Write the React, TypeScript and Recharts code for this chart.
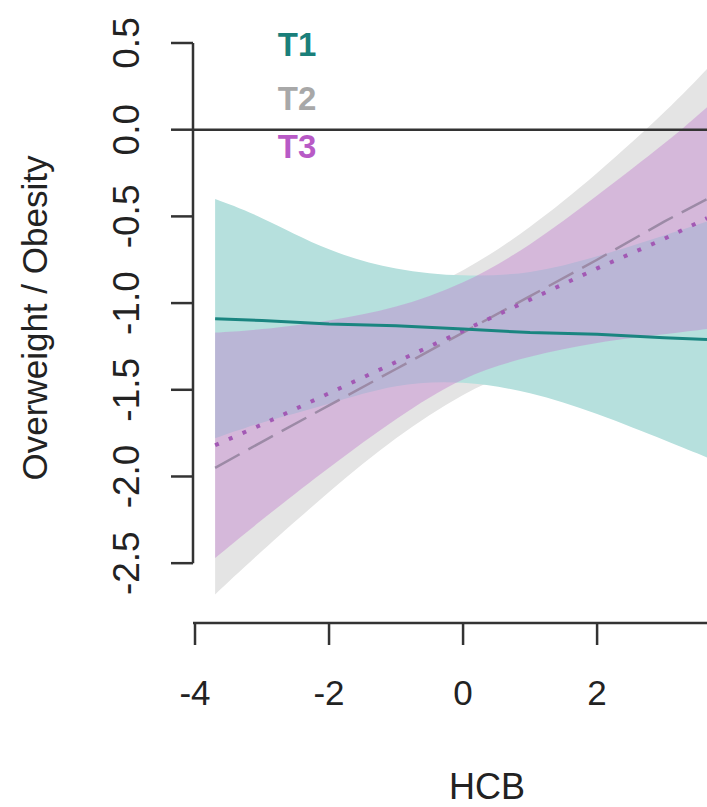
import {
  ComposedChart,
  Area,
  Line,
  XAxis,
  YAxis,
  ReferenceLine,
} from "recharts";

// HCB values where the fitted lines / bands were read
const hcb = [-3.7, -3, -2, -1, 0, 1, 2, 3, 3.64];

// T1 (solid teal) and its confidence band
const t1 = [-1.09, -1.1, -1.12, -1.13, -1.15, -1.17, -1.18, -1.2, -1.21];
const t1Lo = [-1.78, -1.69, -1.58, -1.48, -1.46, -1.52, -1.64, -1.79, -1.89];
const t1Hi = [-0.4, -0.51, -0.69, -0.8, -0.84, -0.82, -0.73, -0.61, -0.53];

// T2 (grey long dash)
const t2 = [-1.95, -1.8, -1.59, -1.38, -1.17, -0.96, -0.75, -0.53, -0.4];
const t2Lo = [-2.68, -2.43, -2.09, -1.78, -1.53, -1.36, -1.25, -1.16, -1.13];
const t2Hi = [-1.22, -1.17, -1.09, -0.98, -0.81, -0.56, -0.25, 0.1, 0.35];

// T3 (purple dotted)
const t3 = [-1.82, -1.7, -1.52, -1.34, -1.16, -0.98, -0.8, -0.63, -0.51];
const t3Lo = [-2.47, -2.25, -1.95, -1.67, -1.44, -1.31, -1.23, -1.18, -1.15];
const t3Hi = [-1.17, -1.15, -1.1, -1.02, -0.88, -0.66, -0.38, -0.08, 0.13];

const xTicks = [-4, -2, 0, 2];
const yTicks = [-2.5, -2, -1.5, -1, -0.5, 0, 0.5];

const rows = hcb.map((x, i) => ({
  x,
  t1: t1[i],
  t1Band: [t1Lo[i], t1Hi[i]],
  t2: t2[i],
  t2Band: [t2Lo[i], t2Hi[i]],
  t3: t3[i],
  t3Band: [t3Lo[i], t3Hi[i]],
}));

const FONT = "'Liberation Sans', Arial, Helvetica, sans-serif";
const INK = "#333";

function YTick({ y, payload }: any) {
  return (
    <text
      x={139}
      y={y}
      transform={`rotate(-90, 139, ${y})`}
      textAnchor="middle"
      fontFamily={FONT}
      fontSize={37}
      fill="#222"
    >
      {payload.value.toFixed(1)}
    </text>
  );
}

function XTick({ x, payload }: any) {
  return (
    <text
      x={x}
      y={705}
      textAnchor="middle"
      fontFamily={FONT}
      fontSize={35}
      fill="#222"
    >
      {payload.value}
    </text>
  );
}

export default function App() {
  return (
    <div style={{ position: "absolute", left: 0, top: 0, width: 707, height: 807, background: "#fff" }}>
      <ComposedChart
        width={707}
        height={807}
        data={rows}
        margin={{ top: 43, right: 0, left: 0, bottom: 0 }}
      >
        <XAxis
          dataKey="x"
          type="number"
          domain={[-4.03, 3.64]}
          ticks={xTicks}
          allowDataOverflow
          height={184}
          tickSize={22}
          axisLine={{ stroke: INK, strokeWidth: 2.5 }}
          tickLine={{ stroke: INK, strokeWidth: 2.5 }}
          tick={<XTick />}
        />
        <YAxis
          type="number"
          domain={[-2.845, 0.5]}
          ticks={yTicks}
          allowDataOverflow
          width={193}
          tickSize={22}
          axisLine={false}
          tickLine={{ stroke: INK, strokeWidth: 2.5 }}
          tick={<YTick />}
        />
        <Area
          dataKey="t2Band"
          type="natural"
          stroke="none"
          fill="#e4e4e4"
          fillOpacity={1}
          isAnimationActive={false}
        />
        <Area
          dataKey="t1Band"
          type="natural"
          stroke="none"
          fill="#b6e0dd"
          fillOpacity={1}
          isAnimationActive={false}
        />
        <Area
          dataKey="t3Band"
          type="natural"
          stroke="none"
          fill="#c07ccd"
          fillOpacity={0.42}
          isAnimationActive={false}
        />
        <ReferenceLine y={0} stroke={INK} strokeWidth={2.5} />
        <ReferenceLine
          segment={[
            { x: -4.03, y: -2.5 },
            { x: -4.03, y: 0.5 },
          ]}
          stroke={INK}
          strokeWidth={2.5}
          ifOverflow="visible"
        />
        <Line
          dataKey="t2"
          type="linear"
          stroke="#9c8aa6"
          strokeWidth={2.5}
          strokeDasharray="28 10"
          dot={false}
          isAnimationActive={false}
        />
        <Line
          dataKey="t3"
          type="linear"
          stroke="#a259b4"
          strokeWidth={4}
          strokeDasharray="4 11"
          dot={false}
          isAnimationActive={false}
        />
        <Line
          dataKey="t1"
          type="linear"
          stroke="#1a8580"
          strokeWidth={3}
          dot={false}
          isAnimationActive={false}
        />
      </ComposedChart>
      <svg
        width={707}
        height={807}
        style={{ position: "absolute", left: 0, top: 0, pointerEvents: "none" }}
        fontFamily={FONT}
      >
        <text x={297} y={56} textAnchor="middle" fontSize={33} fontWeight="bold" fill="#1a7f7a">
          T1
        </text>
        <text x={297} y={110} textAnchor="middle" fontSize={33} fontWeight="bold" fill="#a8a8a8">
          T2
        </text>
        <text x={297} y={158} textAnchor="middle" fontSize={33} fontWeight="bold" fill="#b85ac6">
          T3
        </text>
        <text x={487} y={799} textAnchor="middle" fontSize={36} fill="#222">
          HCB
        </text>
        <text
          x={47}
          y={318}
          transform="rotate(-90, 47, 318)"
          textAnchor="middle"
          fontSize={35}
          fill="#222"
        >
          Overweight / Obesity
        </text>
      </svg>
    </div>
  );
}
